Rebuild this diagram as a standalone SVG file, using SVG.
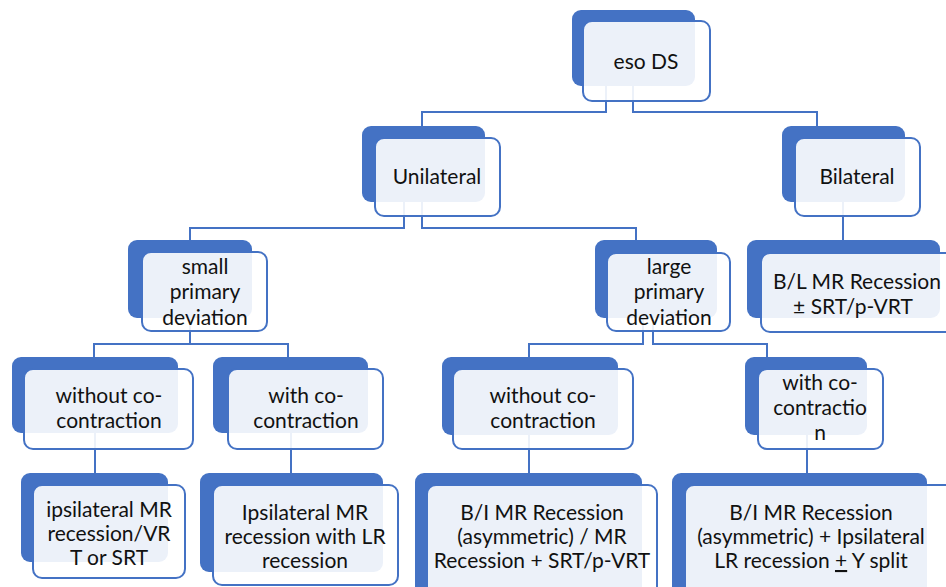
<svg xmlns="http://www.w3.org/2000/svg" width="946" height="587" viewBox="0 0 946 587">
<style>
.back{fill:#4472C4;}
.front{fill:#FFFFFF;fill-opacity:0.9;stroke:#4472C4;stroke-width:2;}
.conn{fill:none;stroke:#4472C4;stroke-width:2;}
text{font-family:Lato,"Liberation Sans",sans-serif;font-size:21px;fill:#111111;text-anchor:middle;}
</style>
<rect width="946" height="587" fill="#ffffff"/>
<g id="connectors">
<polyline class="conn" points="606,86 606,112 422,112 422,126"/>
<polyline class="conn" points="633,86 633,112 817,112 817,126"/>
<polyline class="conn" points="404,202 404,228 190,228 190,240"/>
<polyline class="conn" points="422,202 422,228 636,228 636,240"/>
<polyline class="conn" points="843,202 843,240"/>
<polyline class="conn" points="190,318 190,344 94,344 94,357"/>
<polyline class="conn" points="190,318 190,344 288,344 288,357"/>
<polyline class="conn" points="643,318 643,344 529,344 529,357"/>
<polyline class="conn" points="653,318 653,344 767,344 767,357"/>
<polyline class="conn" points="95,433 95,473"/>
<polyline class="conn" points="291,433 291,473"/>
<polyline class="conn" points="529,435 529,473"/>
<polyline class="conn" points="807,435 807,473"/>
</g>
<g id="n-esods">
<rect class="back" x="572" y="10" width="123" height="76" rx="9"/>
<rect class="front" x="583" y="21" width="127" height="80" rx="9"/>
<text x="646" y="69">eso DS</text>
</g>
<g id="n-unilateral">
<rect class="back" x="362" y="126" width="123" height="76" rx="9"/>
<rect class="front" x="375" y="138" width="125" height="78" rx="9"/>
<text x="437" y="184">Unilateral</text>
</g>
<g id="n-bilateral">
<rect class="back" x="782" y="126" width="123" height="76" rx="9"/>
<rect class="front" x="795" y="138" width="125" height="78" rx="9"/>
<text x="857" y="184">Bilateral</text>
</g>
<g id="n-small">
<rect class="back" x="128" y="240" width="124" height="78" rx="9"/>
<rect class="front" x="142" y="252" width="125" height="79" rx="9"/>
<text x="205" y="274">small</text>
<text x="205" y="299">primary</text>
<text x="205" y="325">deviation</text>
</g>
<g id="n-large">
<rect class="back" x="595" y="240" width="122" height="78" rx="9"/>
<rect class="front" x="607" y="253" width="123" height="78" rx="9"/>
<text x="669" y="274">large</text>
<text x="669" y="299">primary</text>
<text x="669" y="325">deviation</text>
</g>
<g id="n-blmr">
<rect class="back" x="747" y="240" width="193" height="78" rx="9"/>
<rect class="front" x="761" y="253" width="196" height="79" rx="9"/>
<text x="857" y="289">B/L MR Recession</text>
<text x="853" y="314">± SRT/p-VRT</text>
</g>
<g id="n-without-small">
<rect class="back" x="12" y="357" width="166" height="76" rx="9"/>
<rect class="front" x="24" y="369" width="169" height="80" rx="9"/>
<text x="109" y="403">without co-</text>
<text x="109" y="428">contraction</text>
</g>
<g id="n-with-small">
<rect class="back" x="213" y="357" width="155" height="76" rx="9"/>
<rect class="front" x="228" y="369" width="155" height="80" rx="9"/>
<text x="306" y="403">with co-</text>
<text x="306" y="428">contraction</text>
</g>
<g id="n-without-large">
<rect class="back" x="442" y="357" width="176" height="78" rx="9"/>
<rect class="front" x="453" y="369" width="180" height="80" rx="9"/>
<text x="543" y="403">without co-</text>
<text x="543" y="428">contraction</text>
</g>
<g id="n-with-large">
<rect class="back" x="745" y="357" width="122" height="78" rx="9"/>
<rect class="front" x="758" y="369" width="125" height="80" rx="9"/>
<text x="820" y="390">with co-</text>
<text x="820" y="415">contractio</text>
<text x="820" y="440">n</text>
</g>
<g id="n-ipsi-vrt">
<rect class="back" x="21" y="473" width="147" height="89" rx="9"/>
<rect class="front" x="33" y="485" width="152" height="93" rx="9"/>
<text x="109" y="517">ipsilateral MR</text>
<text x="109" y="541">recession/VR</text>
<text x="109" y="565">T or SRT</text>
</g>
<g id="n-ipsi-lr">
<rect class="back" x="200" y="473" width="183" height="99" rx="9"/>
<rect class="front" x="213" y="485" width="185" height="100" rx="9"/>
<text x="305" y="520">Ipsilateral MR</text>
<text x="305" y="544">recession with LR</text>
<text x="305" y="568">recession</text>
</g>
<g id="n-bi-srt">
<rect class="back" x="415" y="473" width="227" height="130" rx="9"/>
<rect class="front" x="427" y="485" width="230" height="130" rx="9"/>
<text x="542" y="520">B/I MR Recession</text>
<text x="542" y="544">(asymmetric) / MR</text>
<text x="542" y="568">Recession + SRT/p-VRT</text>
</g>
<g id="n-bi-lr">
<rect class="back" x="672" y="473" width="255" height="130" rx="9"/>
<rect class="front" x="685" y="485" width="275" height="130" rx="9"/>
<text x="811" y="520">B/I MR Recession</text>
<text x="811" y="544">(asymmetric) + Ipsilateral</text>
<text x="811" y="568">LR recession <tspan text-decoration="underline">+</tspan> Y split</text>
</g>
</svg>
